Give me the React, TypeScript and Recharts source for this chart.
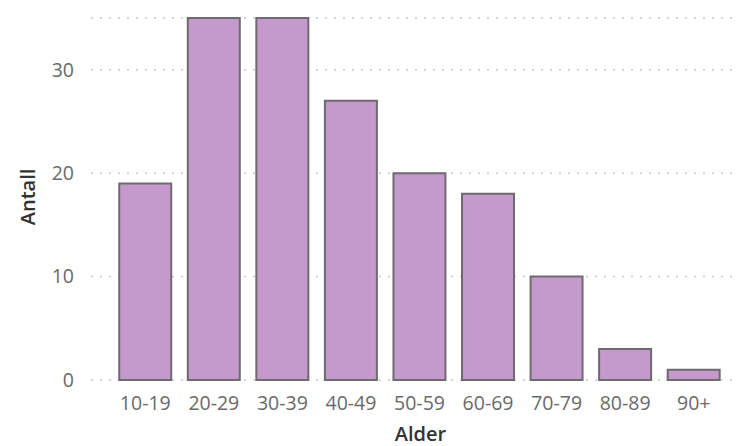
import { BarChart, Bar, XAxis, YAxis, CartesianGrid } from "recharts";

const ageGroups = ["10-19", "20-29", "30-39", "40-49", "50-59", "60-69", "70-79", "80-89", "90+"];
const counts = [19, 35, 35, 27, 20, 18, 10, 3, 1];
const yTicks = [0, 10, 20, 30];

const data = ageGroups.map((alder, i) => ({ alder, antall: counts[i] }));

const font = "'Open Sans', 'Segoe UI', sans-serif";

export default function App() {
  return (
    <div style={{ position: "fixed", left: 0, top: 0, background: "#fff" }}>
      <BarChart
        width={746}
        height={446}
        data={data}
        margin={{ top: 18, right: 8, bottom: 0, left: 0 }}
        barCategoryGap="12%"
      >
        <CartesianGrid
          vertical={false}
          stroke="#c8c8c8"
          strokeDasharray="2 7"
          strokeWidth={1.5}
        />
        <XAxis
          dataKey="alder"
          height={66}
          padding={{ left: 20, right: 10 }}
          axisLine={false}
          tickLine={false}
          tickMargin={10}
          tick={{ fill: "#6a6a6a", fontSize: 19.5, fontFamily: font }}
          label={({ viewBox }: any) => (
            <text
              x={viewBox.x + viewBox.width / 2 + 6}
              y={viewBox.y + 61}
              textAnchor="middle"
              fill="#333333"
              fontSize={20}
              fontWeight={600}
              fontFamily={font}
            >
              Alder
            </text>
          )}
        />
        <YAxis
          width={91}
          domain={[0, 35]}
          ticks={yTicks}
          axisLine={false}
          tickLine={false}
          tickMargin={11}
          tick={{ fill: "#6a6a6a", fontSize: 19.5, fontFamily: font }}
          label={({ viewBox }: any) => {
            const cx = 27;
            const cy = viewBox.y + viewBox.height / 2 - 2;
            return (
              <text
                x={cx}
                y={cy}
                transform={`rotate(-90 ${cx} ${cy})`}
                textAnchor="middle"
                dominantBaseline="central"
                fill="#333333"
                fontSize={20}
                fontWeight={600}
                fontFamily={font}
              >
                Antall
              </text>
            );
          }}
        />
        <Bar
          dataKey="antall"
          fill="#c499cb"
          stroke="#6f6a70"
          strokeWidth={2}
          isAnimationActive={false}
        />
      </BarChart>
    </div>
  );
}
